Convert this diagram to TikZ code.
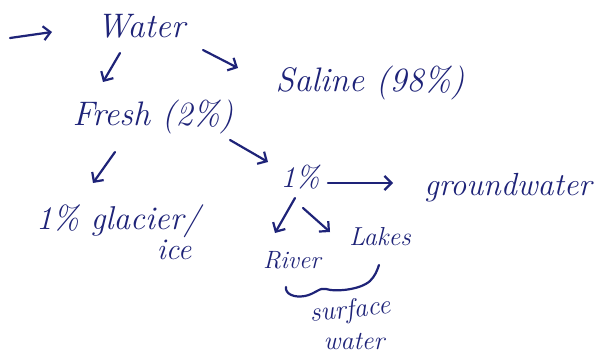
\documentclass[tikz,border=0pt]{standalone}
\usepackage{fontspec}
\usetikzlibrary{arrows.meta,calc}
\definecolor{ink}{RGB}{30,35,120}
\tikzset{
  inkline/.style={draw=ink, line width=2.2pt, line cap=round, line join=round},
  arr/.style={inkline, -{Straight Barb[length=7pt,width=14pt]}},
  hand/.style={text=ink, inner sep=0pt, anchor=base, font=\itshape\fontsize{#1}{#1}\selectfont},
}
\begin{document}
\begin{tikzpicture}[x=1pt,y=-1pt]
\useasboundingbox (0,0) rectangle (600,361);
\fill[white] (0,0) rectangle (600,361);
% texts
\node[hand=34] (water)  at (141,38)  {Water};
\node[hand=34] (saline) at (370,92)  {Saline (98\%)};
\node[hand=34] (fresh)  at (153,125) {Fresh (2\%)};
\node[hand=33] (glacier) at (118,229) {1\% glacier/};
\node[hand=30] (ice)    at (174,259) {ice};
\node[hand=30] (one)    at (300,187) {1\%};
\node[hand=32] (gw)     at (508,195) {groundwater};
\node[hand=25] (river)  at (292,268) {River};
\node[hand=26] (lakes)  at (380,245) {Lakes};
\node[hand=27, anchor=center, rotate=6] (surface) at (350,311) {surface};
\node[hand=26] (swater) at (354,349) {water};
% connectors
\coordinate (start) at (10,38);
\draw[arr] (start) -- ($(water.base)+(-89,-6)$);
\draw[arr] ($(water.base)+(-21,15)$) -- ($(fresh.base)+(-50,-43)$);
\draw[arr] ($(water.base)+(62,12)$) -- ($(saline.base)+(-132,-24)$);
\draw[arr] ($(fresh.base)+(-38,27)$) -- ($(glacier.base)+(-25,-46)$);
\draw[arr] ($(fresh.base)+(77,15)$) -- ($(one.base)+(-32,-25)$);
\draw[arr] ($(one.base)+(28,-4)$) -- ($(gw.base)+(-115,-12)$);
\draw[arr] ($(one.base)+(-5,11)$) -- ($(river.base)+(-17,-35)$);
\draw[arr] ($(one.base)+(3,21)$) -- ($(lakes.base)+(-50,-13)$);
% brace under River and Lakes
\draw[inkline] ($(river.base)+(-6,19)$)
  .. controls (285,294) and (294,298) .. (305,296)
  .. controls (315,294) and (320,287) .. (326,289)
  .. controls (335,292) and (360,290) .. (370,281)
  .. controls (375,276) and (377,271) .. ($(lakes.base)+(-1,20)$);
\end{tikzpicture}
\end{document}
